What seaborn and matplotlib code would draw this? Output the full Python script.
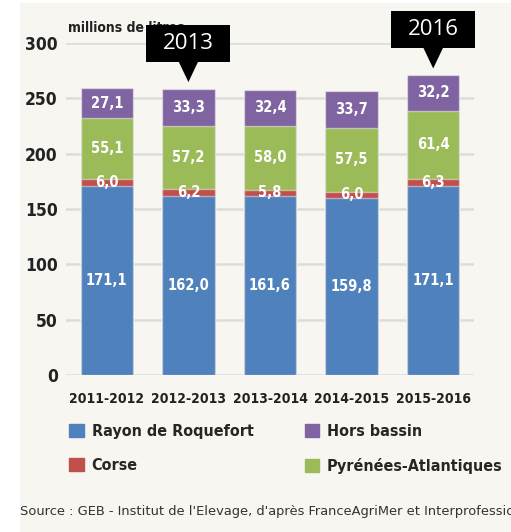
import matplotlib
matplotlib.use("Agg")
import matplotlib.pyplot as plt
import matplotlib.patches as mpatches
import seaborn as sns
import pandas as pd

# campaign years
campaigns = ["2011-2012", "2012-2013", "2013-2014", "2014-2015", "2015-2016"]

# milk collected, millions of litres
rayon = [171.1, 162.0, 161.6, 159.8, 171.1]
corse = [6.0, 6.2, 5.8, 6.0, 6.3]
pyrenees = [55.1, 57.2, 58.0, 57.5, 61.4]
hors = [27.1, 33.3, 32.4, 33.7, 32.2]

series_names = ["Rayon de Roquefort", "Corse", "Pyrénées-Atlantiques", "Hors bassin"]
series_colors = ["#4f81bd", "#c0504d", "#9bbb59", "#8064a2"]

y_ticks = [0, 50, 100, 150, 200, 250, 300]
callouts = {"2012-2013": "2013", "2015-2016": "2016"}

BG = "#f7f6f0"

sns.set_style("white")
plt.rcParams["font.family"] = ["DejaVu Sans"]
plt.rcParams["font.stretch"] = "condensed"

df = pd.DataFrame({"campaign": campaigns, "Rayon de Roquefort": rayon,
                   "Corse": corse, "Pyrénées-Atlantiques": pyrenees,
                   "Hors bassin": hors})
stack = df[series_names].cumsum(axis=1)

fig = plt.figure(figsize=(5.11, 5.32), dpi=100, facecolor="white")
fig.patches.append(mpatches.Rectangle((20 / 511, 0), 1, 1 - 3 / 532,
                                      transform=fig.transFigure,
                                      facecolor=BG, edgecolor="none", zorder=-10))
ax = fig.add_axes([66 / 511, (532 - 375) / 532, (474 - 66) / 511, (375 - 43) / 532])
ax.patch.set_alpha(0)

# stacked bars: draw cumulative totals from the top layer down
for name, color in reversed(list(zip(series_names, series_colors))):
    sns.barplot(x=df["campaign"], y=stack[name], color=color, width=0.64,
                edgecolor=(1, 1, 1, 0.45), linewidth=1, saturation=1, ax=ax,
                zorder=2)

# value labels in the middle of each segment
for name in series_names:
    tops = stack[name].values
    vals = df[name].values
    for i, (t, v) in enumerate(zip(tops, vals)):
        ax.text(i, t - v / 2, f"{v:.1f}".replace(".", ","), ha="center",
                va="center", color="white", fontsize=10.5, fontweight="bold",
                zorder=4)

ax.set_xlim(-0.5, len(campaigns) - 0.5)
ax.set_ylim(0, 300)
ax.set_yticks(y_ticks)
ax.grid(axis="y", color="#dcdcdc", linewidth=1.8, zorder=0)
ax.set_axisbelow(True)
for s in ax.spines.values():
    s.set_visible(False)
ax.tick_params(axis="y", length=0, pad=6, labelsize=12.5, colors="#222222")
ax.tick_params(axis="x", length=0, pad=12, labelsize=10, colors="#222222")
for lab in ax.get_xticklabels() + ax.get_yticklabels():
    lab.set_fontweight("bold")
ax.set_xlabel("")
ax.set_ylabel("")

fig.text(68 / 511, 1 - 32 / 532, "millions de litres", fontsize=10,
         fontweight="bold", color="#222222", ha="left", va="baseline")

# black callout boxes above two bars
fig.canvas.draw()
W, H = 511, 532
for i, c in enumerate(campaigns):
    if c not in callouts:
        continue
    tx_px, ty_px = ax.transData.transform((i, stack["Hors bassin"][i] + 6))
    bw, bh, gap, half = 84, 37, 20, 10
    box_bottom = ty_px + gap
    rect = mpatches.Rectangle(((tx_px - bw / 2) / W, box_bottom / H), bw / W, bh / H,
                              transform=fig.transFigure, facecolor="black",
                              edgecolor="none", zorder=20)
    tri = mpatches.Polygon([((tx_px - half) / W, (box_bottom + 1) / H),
                            ((tx_px + half) / W, (box_bottom + 1) / H),
                            (tx_px / W, ty_px / H)],
                           closed=True, transform=fig.transFigure,
                           facecolor="black", edgecolor="none", zorder=20)
    fig.patches.extend([rect, tri])
    fig.text(tx_px / W, (box_bottom + bh / 2) / H, callouts[c], color="white",
             fontsize=16, family=["Open Sans", "DejaVu Sans"],
             fontstretch="normal", ha="center", va="center", zorder=21)

handles = [mpatches.Patch(color=c, label=n) for n, c in zip(series_names, series_colors)]
order = [0, 1, 3, 2]
fig.legend([handles[k] for k in order], [series_names[k] for k in order],
           ncol=2, loc="center left", bbox_to_anchor=(55 / 511, 1 - 449 / 532),
           frameon=False, handlelength=0.9, handleheight=0.9,
           handletextpad=0.5, columnspacing=3.2, labelspacing=1.2,
           prop={"weight": "bold", "size": 11.5})

fig.text(20 / 511, 1 - 512 / 532,
         "Source : GEB - Institut de l'Elevage, d'après FranceAgriMer et Interprofession",
         fontsize=9.4, fontstretch="normal", color="#333333", ha="left",
         va="center")

fig.savefig("out.png", dpi=100, facecolor=fig.get_facecolor())
